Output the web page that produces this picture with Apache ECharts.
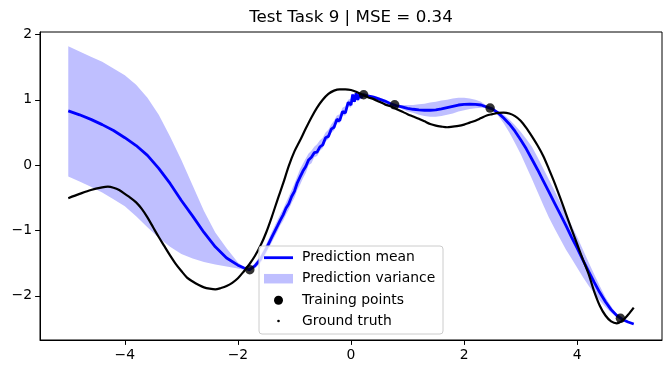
<!DOCTYPE html>
<html>
<head>
<meta charset="utf-8">
<script src="https://cdn.jsdelivr.net/npm/echarts@6/dist/echarts.min.js"></script>
<style>html,body{margin:0;padding:0;background:#fff}#c{width:670px;height:374px}</style>
</head>
<body>
<div id="c"></div>
<script>
// ---- data ----
const xTicks = [-4, -2, 0, 2, 4];
const yTicks = [-2, -1, 0, 1, 2];

const predX = [-5.0,-4.8,-4.6,-4.4,-4.2,-4.0,-3.8,-3.6,-3.4,-3.2,-3.0,-2.8,-2.6,-2.4,-2.2,-2.0,-1.9,-1.8,-1.7,-1.6,-1.5,-1.4,-1.3,-1.25,
  -1.2,-1.15,-1.1,-1.05,-1.0,-0.95,-0.9,-0.85,-0.8,-0.75,-0.7,-0.65,-0.6,-0.55,-0.5,-0.45,-0.4,-0.35,-0.3,-0.25,-0.2,-0.15,-0.1,-0.05,
  0.0,0.03,0.06,0.09,0.12,0.15,0.18,0.22,0.25,
  0.3,0.4,0.5,0.6,0.7,0.8,0.9,1.0,1.1,1.2,1.3,1.4,1.5,1.6,1.7,1.8,1.9,2.0,2.1,2.2,2.3,2.4,2.5,2.6,2.7,2.8,2.9,
  3.0,3.1,3.2,3.3,3.4,3.5,3.6,3.7,3.8,3.9,4.0,4.1,4.2,4.3,4.4,4.5,4.6,4.7,4.8,4.9,5.0];

const meanY = [0.83,0.77,0.70,0.62,0.53,0.42,0.30,0.15,-0.05,-0.28,-0.54,-0.78,-1.03,-1.25,-1.42,-1.53,-1.57,-1.60,-1.54,-1.44,-1.28,-1.10,-0.93,-0.84,
  -0.76,-0.66,-0.59,-0.48,-0.40,-0.27,-0.18,-0.09,-0.02,0.08,0.12,0.19,0.20,0.28,0.31,0.42,0.44,0.55,0.58,0.70,0.68,0.82,0.80,0.96,
  0.92,1.08,0.97,1.10,1.00,1.09,1.03,1.08,1.07,
  1.06,1.04,1.01,0.98,0.94,0.91,0.89,0.87,0.855,0.845,0.84,0.84,0.845,0.86,0.88,0.90,0.92,0.93,0.935,0.93,0.92,0.89,0.86,0.80,0.72,0.63,0.52,
  0.39,0.25,0.09,-0.07,-0.24,-0.41,-0.58,-0.75,-0.92,-1.10,-1.27,-1.45,-1.62,-1.79,-1.95,-2.09,-2.21,-2.30,-2.36,-2.40,-2.43];

const upperY = [1.82,1.74,1.66,1.58,1.48,1.375,1.23,1.03,0.77,0.44,0.08,-0.31,-0.70,-1.03,-1.27,-1.49,-1.555,-1.59,-1.50,-1.38,-1.21,-1.02,-0.84,-0.75,
  -0.67,-0.57,-0.48,-0.38,-0.28,-0.17,-0.06,0.02,0.10,0.18,0.22,0.28,0.32,0.38,0.42,0.50,0.54,0.62,0.68,0.76,0.78,0.88,0.90,1.00,
  1.02,1.10,1.05,1.12,1.08,1.11,1.09,1.09,1.08,
  1.075,1.06,1.04,1.00,0.96,0.92,0.92,0.92,0.92,0.93,0.94,0.96,0.97,0.99,1.00,1.02,1.03,1.03,1.02,1.00,0.97,0.91,0.87,0.83,0.77,0.70,0.61,
  0.51,0.40,0.28,0.12,-0.05,-0.22,-0.39,-0.57,-0.74,-0.92,-1.10,-1.29,-1.48,-1.67,-1.85,-2.02,-2.16,-2.28,-2.35,-2.39,-2.42];

const lowerY = [-0.175,-0.25,-0.33,-0.42,-0.52,-0.63,-0.78,-0.95,-1.11,-1.25,-1.36,-1.43,-1.48,-1.52,-1.55,-1.58,-1.60,-1.61,-1.58,-1.50,-1.35,-1.18,-1.01,-0.92,
  -0.85,-0.76,-0.68,-0.58,-0.50,-0.38,-0.30,-0.20,-0.12,0.00,0.03,0.12,0.14,0.22,0.26,0.36,0.40,0.49,0.53,0.64,0.64,0.76,0.76,0.90,
  0.88,1.02,0.94,1.04,0.97,1.05,1.01,1.06,1.06,
  1.045,1.02,0.98,0.95,0.92,0.90,0.86,0.82,0.80,0.77,0.75,0.74,0.74,0.75,0.77,0.79,0.82,0.84,0.86,0.87,0.88,0.87,0.84,0.76,0.64,0.50,0.34,
  0.17,-0.02,-0.21,-0.41,-0.61,-0.80,-0.97,-1.13,-1.29,-1.43,-1.57,-1.71,-1.84,-1.96,-2.07,-2.17,-2.26,-2.32,-2.37,-2.41,-2.44];

const trainX = [-1.79, 0.224, 0.772, 2.46, 4.765];
const trainY = [-1.60, 1.077, 0.923, 0.873, -2.343];

const gtX = [-5.0,-4.8,-4.6,-4.4,-4.3,-4.2,-4.1,-4.0,-3.9,-3.8,-3.7,-3.6,-3.5,-3.4,-3.3,-3.2,-3.1,-3.0,-2.9,-2.8,-2.7,-2.6,-2.5,-2.4,-2.3,-2.2,-2.1,-2.0,
  -1.9,-1.8,-1.7,-1.6,-1.5,-1.4,-1.3,-1.2,-1.1,-1.0,-0.9,-0.8,-0.7,-0.6,-0.5,-0.4,-0.3,-0.2,-0.1,0.0,0.1,0.2,0.3,0.4,0.5,0.6,0.7,0.8,0.9,
  1.0,1.1,1.2,1.3,1.4,1.5,1.6,1.7,1.8,1.9,2.0,2.1,2.2,2.3,2.4,2.5,2.6,2.7,2.8,2.9,3.0,3.1,3.2,3.3,3.4,3.5,3.6,3.7,3.8,3.9,
  4.0,4.1,4.2,4.3,4.4,4.5,4.6,4.7,4.8,4.9,5.0];
const gtY = [-0.505,-0.44,-0.38,-0.34,-0.33,-0.345,-0.38,-0.44,-0.50,-0.57,-0.67,-0.80,-0.95,-1.10,-1.24,-1.38,-1.51,-1.62,-1.72,-1.78,-1.83,-1.87,-1.89,-1.90,-1.88,-1.85,-1.80,-1.73,
  -1.63,-1.52,-1.39,-1.23,-1.03,-0.79,-0.53,-0.28,-0.01,0.21,0.38,0.56,0.73,0.88,1.00,1.09,1.14,1.16,1.16,1.15,1.12,1.08,1.04,1.01,0.97,0.93,0.90,0.86,0.82,
  0.78,0.745,0.71,0.67,0.63,0.605,0.59,0.58,0.59,0.60,0.62,0.65,0.68,0.72,0.76,0.78,0.80,0.805,0.79,0.75,0.68,0.57,0.44,0.30,0.14,-0.06,-0.27,-0.50,-0.74,-0.98,
  -1.21,-1.44,-1.66,-1.93,-2.15,-2.30,-2.39,-2.42,-2.38,-2.29,-2.18];

// ---- chart ----
const FONT = 'DejaVu Sans';
const fmt = v => (v < 0 ? '\u2212' + Math.abs(v) : String(v));
const chart = echarts.init(document.getElementById('c'), null, {renderer: 'canvas'});

const legendText = {fontSize: 13.9, color: '#000', fontFamily: FONT, lineHeight: 16, padding: [0, 0, 0, 4]};
function legendFor(name, left, top, icon, itemHeight, color) {
  return {
    left: left, top: top, padding: 0, orient: 'vertical', selectedMode: false, z: 21,
    itemWidth: 29, itemHeight: itemHeight, textStyle: legendText,
    data: [{name: name, icon: icon, itemStyle: {color: color, opacity: 1, borderWidth: 0}}]
  };
}

const option = {
  animation: false,
  backgroundColor: '#fff',
  textStyle: {fontFamily: FONT},
  title: {
    text: 'Test Task 9 | MSE = 0.34', left: 351, top: 9, textAlign: 'center', padding: 0,
    textStyle: {fontSize: 16.7, fontWeight: 'normal', color: '#000', fontFamily: FONT}
  },
  grid: {left: 40, top: 32, width: 622, height: 308, show: true, borderColor: '#000', borderWidth: 1, backgroundColor: 'transparent'},
  xAxis: {
    type: 'value', min: -5.5, max: 5.5,
    axisLine: {onZero: false, lineStyle: {color: '#000', width: 1}},
    axisTick: {customValues: xTicks, length: 4.9, lineStyle: {color: '#000', width: 1}},
    axisLabel: {customValues: xTicks, margin: 8, formatter: fmt, color: '#000', fontSize: 13.9, fontFamily: FONT},
    splitLine: {show: false}
  },
  yAxis: {
    type: 'value', min: -2.675, max: 2.037,
    axisLine: {onZero: false, lineStyle: {color: '#000', width: 1}},
    axisTick: {customValues: yTicks, length: 4.9, lineStyle: {color: '#000', width: 1}},
    axisLabel: {customValues: yTicks, margin: 8, formatter: fmt, color: '#000', fontSize: 13.9, fontFamily: FONT},
    splitLine: {show: false}
  },
  legend: [
    legendFor('Prediction mean', 264, 249.7, 'rect', 2.8, '#0000ff'),
    legendFor('Prediction variance', 264, 270.7, 'rect', 9.5, '#bfbfff'),
    legendFor('Training points', 274, 292.3, 'circle', 9, '#000'),
    legendFor('Ground truth', 277.2, 313, 'circle', 2.6, '#000')
  ],
  graphic: [{
    type: 'rect', left: 258.5, top: 245.5, z: 20,
    shape: {width: 184, height: 88, r: 3},
    style: {fill: 'rgba(255,255,255,0.8)', stroke: '#cccccc', lineWidth: 1}
  }],
  series: [
    {
      name: 'Prediction variance', type: 'custom', silent: true, z: 1, color: '#bfbfff',
      data: predX.map((x, i) => [x, lowerY[i], upperY[i]]),
      encode: {x: 0, y: [1, 2]},
      renderItem: function (params, api) {
        if (params.dataIndex !== 0) return null;
        const pts = [];
        for (let i = 0; i < predX.length; i++) pts.push(api.coord([predX[i], upperY[i]]));
        for (let i = predX.length - 1; i >= 0; i--) pts.push(api.coord([predX[i], lowerY[i]]));
        return {type: 'polygon', shape: {points: pts}, style: {fill: '#bfbfff', stroke: null}};
      }
    },
    {
      name: 'Prediction mean', type: 'line',
      data: predX.map((x, i) => [x, meanY[i]]),
      symbol: 'none', silent: true, z: 3, color: '#0000ff',
      lineStyle: {color: '#0000ff', width: 2.8}
    },
    {
      name: 'Training points', type: 'scatter',
      data: trainX.map((x, i) => [x, trainY[i]]),
      symbol: 'circle', symbolSize: 9.5, silent: true, z: 4, itemStyle: {color: '#000'}
    },
    {
      name: 'Ground truth', type: 'line',
      data: gtX.map((x, i) => [x, gtY[i]]),
      symbol: 'none', smooth: 0.3, silent: true, z: 5, color: '#000',
      lineStyle: {color: '#000', width: 2.2}
    }
  ]
};
chart.setOption(option);
</script>
</body>
</html>
